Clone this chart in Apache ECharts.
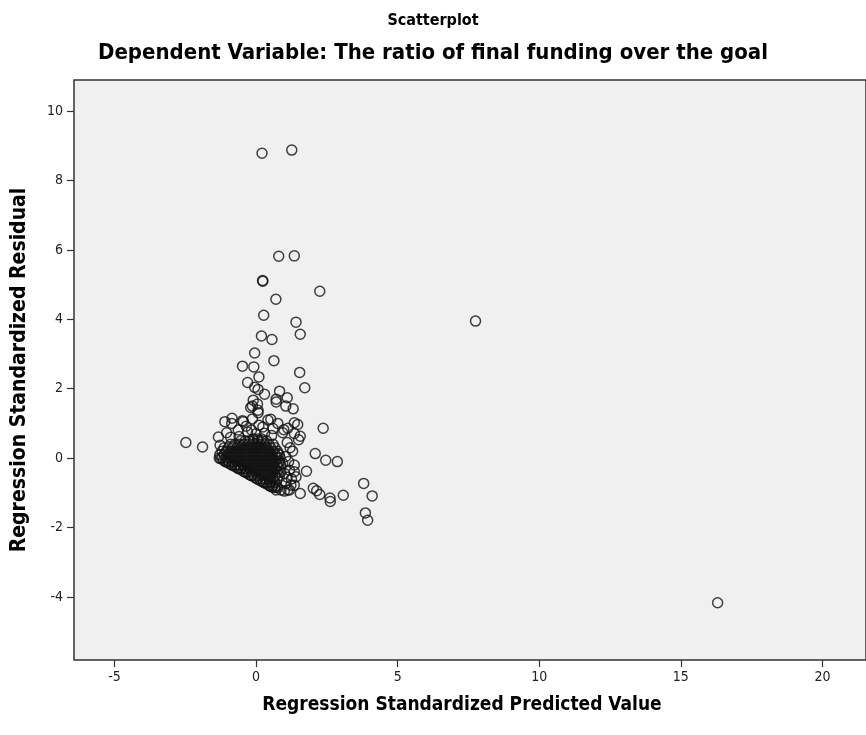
<!DOCTYPE html>
<html><head><meta charset="utf-8">
<script src="https://cdn.jsdelivr.net/npm/echarts@6/dist/echarts.min.js"></script>
<style>html,body{margin:0;padding:0;background:#fff}#c{width:866px;height:735px}</style>
</head><body><div id="c"></div>
<script>
const titleText = 'Scatterplot';
const subtitleText = 'Dependent Variable: The ratio of final funding over the goal';
const xAxisName = 'Regression Standardized Predicted Value';
const yAxisName = 'Regression Standardized Residual';
const xTicks = [-5, 0, 5, 10, 15, 20];
const yTicks = [-4, -2, 0, 2, 4, 6, 8, 10];

// isolated points far from the cluster
const outlierPoints = [
  [0.21, 8.79], [1.26, 8.88], [0.80, 5.82], [1.35, 5.83], [0.23, 5.12], [0.24, 5.10],
  [2.25, 4.81], [0.70, 4.58], [0.27, 4.12], [1.41, 3.92], [1.56, 3.57], [0.19, 3.52],
  [0.56, 3.42], [7.75, 3.95], [16.30, -4.17],
  [-0.05, 3.03], [0.63, 2.81], [-0.48, 2.65], [-0.08, 2.63], [1.54, 2.47], [0.10, 2.34],
  [1.72, 2.03], [-0.30, 2.18], [-0.05, 2.04], [0.07, 1.98], [0.83, 1.93], [0.30, 1.84],
  [-0.10, 1.67], [0.71, 1.70], [1.10, 1.74], [-0.13, 1.50], [0.07, 1.38], [0.71, 1.62],
  [1.05, 1.50], [1.31, 1.42], [-0.19, 1.46], [0.05, 1.56]
];

// points scattered around the edge of the dense cluster
const spreadPoints = [
  [-1.10, 1.05], [-0.85, 1.15], [-0.48, 1.08], [-0.13, 1.13], [0.52, 1.12], [1.47, 0.97],
  [2.37, 0.86], [0.98, 0.82], [1.35, 0.71], [1.56, 0.63], [1.50, 0.53], [0.07, 1.31],
  [0.42, 1.10], [0.94, 0.73], [1.12, 0.86], [1.35, 1.02], [-0.16, 0.81], [0.24, 0.90],
  [-0.63, 0.81], [0.77, 1.00], [-0.86, 1.00], [-1.04, 0.73], [-1.33, 0.61], [-1.27, 0.37],
  [-0.45, 1.05], [-2.48, 0.45], [-1.89, 0.32],
  [-0.30, 0.75], [0.00, 0.70], [0.30, 0.72], [0.55, 0.65], [-0.60, 0.62], [-0.90, 0.60],
  [0.10, 0.95], [-0.35, 0.92], [0.60, 0.85],
  [1.29, 0.20], [2.09, 0.13], [2.46, -0.06], [2.87, -0.10], [1.78, -0.38], [1.35, -0.20],
  [1.35, -0.39], [1.18, -0.35], [1.41, -0.54], [1.35, -0.78], [1.00, -0.95], [0.71, -0.92],
  [1.56, -1.02], [2.02, -0.87], [2.14, -0.94], [2.25, -1.05], [2.61, -1.15], [2.62, -1.25],
  [3.08, -1.07], [3.80, -0.73], [4.10, -1.09], [3.86, -1.58], [3.94, -1.79], [1.23, -0.78],
  [1.12, -0.92], [0.77, 0.13], [0.94, -0.15], [1.00, -0.44], [1.06, -0.73], [0.88, -0.92],
  [1.18, -0.92], [1.10, 0.45], [1.20, 0.30], [1.05, 0.05], [1.15, -0.10], [1.10, -0.55],
  [1.25, -0.60]
];

// dense cluster near the origin (rows)
const clusterPoints = [
  [-0.10, 0.55], [0.05, 0.55], [0.20, 0.55],
  [-0.53, 0.50], [-0.38, 0.50], [-0.23, 0.50], [-0.08, 0.50], [0.07, 0.50], [0.22, 0.50], [0.37, 0.50],
  [-0.90, 0.40], [-0.75, 0.40], [-0.60, 0.40], [-0.45, 0.40], [-0.30, 0.40], [-0.15, 0.40], [0.00, 0.40],
  [0.15, 0.40], [0.30, 0.40], [0.45, 0.40], [0.60, 0.40],
  [-1.13, 0.30], [-0.98, 0.30], [-0.83, 0.30], [-0.68, 0.30], [-0.53, 0.30], [-0.38, 0.30], [-0.23, 0.30],
  [-0.08, 0.30], [0.07, 0.30], [0.22, 0.30], [0.37, 0.30], [0.52, 0.30], [0.67, 0.30],
  [-1.20, 0.20], [-1.05, 0.20], [-0.90, 0.20], [-0.75, 0.20], [-0.60, 0.20], [-0.45, 0.20], [-0.30, 0.20],
  [-0.15, 0.20], [0.00, 0.20], [0.15, 0.20], [0.30, 0.20], [0.45, 0.20], [0.60, 0.20], [0.75, 0.20],
  [-1.28, 0.10], [-1.13, 0.10], [-0.98, 0.10], [-0.83, 0.10], [-0.68, 0.10], [-0.53, 0.10], [-0.38, 0.10],
  [-0.23, 0.10], [-0.08, 0.10], [0.07, 0.10], [0.22, 0.10], [0.37, 0.10], [0.52, 0.10], [0.67, 0.10], [0.82, 0.10],
  [-1.30, 0.00], [-1.20, 0.00], [-1.05, 0.00], [-0.90, 0.00], [-0.75, 0.00], [-0.60, 0.00], [-0.45, 0.00],
  [-0.30, 0.00], [-0.15, 0.00], [0.00, 0.00], [0.15, 0.00], [0.30, 0.00], [0.45, 0.00], [0.60, 0.00],
  [0.75, 0.00], [0.85, 0.00],
  [-1.08, -0.10], [-0.98, -0.10], [-0.83, -0.10], [-0.68, -0.10], [-0.53, -0.10], [-0.38, -0.10], [-0.23, -0.10],
  [-0.08, -0.10], [0.07, -0.10], [0.22, -0.10], [0.37, -0.10], [0.52, -0.10], [0.67, -0.10], [0.82, -0.10],
  [-0.85, -0.20], [-0.75, -0.20], [-0.60, -0.20], [-0.45, -0.20], [-0.30, -0.20], [-0.15, -0.20], [0.00, -0.20],
  [0.15, -0.20], [0.30, -0.20], [0.45, -0.20], [0.60, -0.20], [0.75, -0.20], [0.87, -0.20],
  [-0.62, -0.30], [-0.53, -0.30], [-0.38, -0.30], [-0.23, -0.30], [-0.08, -0.30], [0.07, -0.30], [0.22, -0.30],
  [0.37, -0.30], [0.52, -0.30], [0.67, -0.30], [0.82, -0.30],
  [-0.40, -0.40], [-0.30, -0.40], [-0.15, -0.40], [0.00, -0.40], [0.15, -0.40], [0.30, -0.40], [0.45, -0.40],
  [0.60, -0.40], [0.75, -0.40], [0.88, -0.40],
  [-0.18, -0.50], [-0.08, -0.50], [0.07, -0.50], [0.22, -0.50], [0.37, -0.50], [0.52, -0.50], [0.67, -0.50], [0.82, -0.50],
  [0.04, -0.60], [0.15, -0.60], [0.30, -0.60], [0.45, -0.60], [0.60, -0.60], [0.75, -0.60],
  [0.27, -0.70], [0.37, -0.70], [0.52, -0.70], [0.67, -0.70],
  [0.49, -0.80], [0.60, -0.80], [0.72, -0.80],
  [-1.25, -0.02], [-1.15, -0.06], [-1.05, -0.11], [-0.95, -0.15], [-0.85, -0.20], [-0.75, -0.24], [-0.65, -0.29],
  [-0.55, -0.33], [-0.45, -0.38], [-0.35, -0.42], [-0.25, -0.47], [-0.15, -0.51], [-0.05, -0.56], [0.05, -0.60],
  [0.15, -0.65], [0.25, -0.69], [0.35, -0.74], [0.45, -0.78], [0.55, -0.83], [0.65, -0.85], [0.75, -0.85]
];

const FONT = '"DejaVu Sans Condensed","DejaVu Sans",sans-serif';
const chart = echarts.init(document.getElementById('c'), null, { renderer: 'canvas' });
const mark = {
  type: 'scatter', symbol: 'circle', symbolSize: 10, silent: true,
  itemStyle: { color: 'rgba(0,0,0,0)', borderColor: '#111', borderWidth: 1.5 }
};
chart.setOption({
  animation: false,
  backgroundColor: '#ffffff',
  title: [
    { text: titleText, left: 'center', top: 8, textStyle: { fontFamily: FONT, fontWeight: 'bold', fontSize: 16, color: '#000' } },
    { text: subtitleText, left: 'center', top: 37, textStyle: { fontFamily: FONT, fontWeight: 'bold', fontSize: 22, color: '#000' } }
  ],
  grid: { left: 74, top: 80, width: 800, height: 580, show: true, backgroundColor: '#f0f0f0', borderColor: '#333', borderWidth: 1.5 },
  xAxis: {
    type: 'value', min: -6.43, max: 21.54,
    name: xAxisName, nameLocation: 'middle', nameGap: 36,
    nameTextStyle: { fontFamily: FONT, fontWeight: 'bold', fontSize: 19, color: '#000', padding: [0, 16, 0, 0] },
    axisLine: { show: false, onZero: false }, splitLine: { show: false },
    axisTick: { show: true, inside: false, length: 7, customValues: xTicks, lineStyle: { color: '#333', width: 1.2 } },
    axisLabel: { customValues: xTicks, margin: 10, fontFamily: FONT, fontSize: 14, color: '#222' }
  },
  yAxis: {
    type: 'value', min: -5.82, max: 10.9,
    name: yAxisName, nameLocation: 'middle', nameGap: 44, nameRotate: 90,
    nameTextStyle: { fontFamily: FONT, fontWeight: 'bold', fontSize: 21, color: '#000' },
    axisLine: { show: false, onZero: false }, splitLine: { show: false },
    axisTick: { show: true, inside: false, length: 7, customValues: yTicks, lineStyle: { color: '#333', width: 1.2 } },
    axisLabel: { customValues: yTicks, margin: 11, fontFamily: FONT, fontSize: 14, color: '#222' }
  },
  series: [
    Object.assign({ data: clusterPoints }, mark),
    Object.assign({ data: spreadPoints }, mark),
    Object.assign({ data: outlierPoints }, mark)
  ]
});
</script></body></html>
